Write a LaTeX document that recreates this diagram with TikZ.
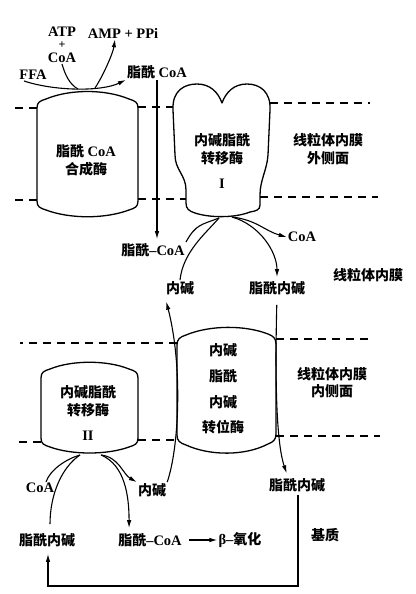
\documentclass[tikz,border=0pt]{standalone}
\usepackage{fontspec}
\setmainfont{Liberation Serif}
\newfontfamily\zhfont{Noto Sans CJK SC}
\usepackage{tikz}
\usetikzlibrary{arrows.meta,positioning}
\newcommand{\zh}[1]{{\zhfont\fontsize{14}{16}\selectfont #1}}

\begin{document}
\begin{tikzpicture}[x=1pt,y=-1pt]
\tikzstyle{lbl}=[inner sep=1pt, font=\fontsize{14.5}{16}\selectfont\bfseries]
\tikzstyle{stack}=[lbl, align=center]
\tikzstyle{enz}=[line width=1.3pt, line join=round]
\tikzstyle{memb}=[line width=1.2pt, dash pattern=on 8pt off 6pt]
\tikzstyle{flow}=[line width=1.1pt]
\tikzstyle{arr}=[flow, -{Latex[length=8pt,width=4.5pt]}]
\useasboundingbox (0,0) rectangle (415,594);

% membrane faces
\draw[memb] (37,108) -- (10,108);
\draw[memb] (138,107) -- (173,107);
\draw[memb] (270,103) -- (370,103);
\draw[memb] (37,200) -- (10,200);
\draw[memb] (138,199) -- (186,199);
\draw[memb] (260,197) -- (378,197);
\draw[memb] (177,343) -- (20,343);
\draw[memb] (276,339) -- (372,339);
\draw[memb] (41,442) -- (15,442);
\draw[memb] (138,440) -- (177,440);
\draw[memb] (276,436) -- (380,436);

% enzymes
\draw[enz] (37,108) .. controls (37,102) and (40,101) .. (46,99)
  .. controls (70,89) and (105,89) .. (129,99)
  .. controls (135,101) and (138,102) .. (138,108) -- (138,201)
  .. controls (138,207) and (135,208) .. (129,210)
  .. controls (105,219) and (70,219) .. (46,210)
  .. controls (40,208) and (37,207) .. (37,201) -- cycle;
\draw[enz] (173,110) .. controls (172,90) and (185,84) .. (197,84)
  .. controls (210,84) and (218,92) .. (222,103)
  .. controls (226,92) and (234,84) .. (247,84)
  .. controls (260,84) and (271,92) .. (270,110) -- (268,155)
  .. controls (267,170) and (260,180) .. (260,195) -- (260,205)
  .. controls (260,210) and (256,211) .. (250,212)
  .. controls (235,218) and (210,218) .. (195,213)
  .. controls (189,211) and (186,209) .. (186,203) -- (186,190)
  .. controls (186,175) and (175,170) .. (175,155) -- cycle;
\draw[enz] (177,345) .. controls (177,339) and (180,337) .. (186,335)
  .. controls (210,325) and (245,325) .. (268,334)
  .. controls (273,336) and (276,338) .. (276,344) -- (276,434)
  .. controls (276,440) and (273,442) .. (268,444)
  .. controls (245,456) and (210,456) .. (186,445)
  .. controls (180,443) and (177,441) .. (177,435) -- cycle;
\draw[enz] (41,378) .. controls (41,372) and (44,371) .. (50,369)
  .. controls (72,360) and (107,360) .. (129,369)
  .. controls (135,371) and (138,372) .. (138,378) -- (138,438)
  .. controls (138,444) and (135,445) .. (129,447)
  .. controls (107,455) and (72,455) .. (50,447)
  .. controls (44,445) and (41,444) .. (41,438) -- cycle;

\draw node at (86,160) [stack, font=\fontsize{14.5}{18}\selectfont\bfseries] (Acs) {\zh{脂酰} CoA\\\zh{合成酶}};
\draw node at (222,161) [stack, font=\fontsize{14.5}{18}\selectfont\bfseries] (CptI) {\zh{内碱脂酰}\\\zh{转移酶}\\[7pt]I};
\draw node at (223,389) [stack, font=\fontsize{14.5}{25.7}\selectfont\bfseries] (Cact) {\zh{内碱}\\\zh{脂酰}\\\zh{内碱}\\\zh{转位酶}};
\draw node at (88,413) [stack, font=\fontsize{14.5}{18}\selectfont\bfseries] (CptII) {\zh{内碱脂酰}\\\zh{转移酶}\\[7pt]II};

\draw node at (328,149) [stack, font=\fontsize{14.5}{18}\selectfont\bfseries] (OuterSide) {\zh{线粒体内膜}\\\zh{外侧面}};
\draw node at (368,275) [lbl] (Inner) {\zh{线粒体内膜}};
\draw node at (332,383) [stack, font=\fontsize{14.5}{17}\selectfont\bfseries] (InnerSide) {\zh{线粒体内膜}\\\zh{内侧面}};
\draw node at (325,535) [lbl] (Matrix) {\zh{基质}};

% outside
\draw node at (62,32) [lbl] (ATP) {ATP};
\draw node at (62,45) [lbl, inner sep=0pt, font=\fontsize{12}{12}\selectfont\bfseries] (Plus) {+};
\draw node at (62,58) [lbl] (CoAin) {CoA};
\draw node at (123,33) [lbl] (AMP) {AMP + PPi};
\draw node at (33,75) [lbl] (FFA) {FFA};
\draw node at (157,72) [lbl] (AcylCoAtop) {\zh{脂酰} CoA};

% intermembrane
\draw node at (153,250) [lbl] (AcylCoAmid) {\zh{脂酰}--CoA};
\draw node at (302,237) [lbl] (CoAmid) {CoA};
\draw node at (180,288) [lbl] (Car) {\zh{内碱}};
\draw node at (277,288) [lbl] (AcylCar) {\zh{脂酰内碱}};

% matrix
\draw node at (40,488) [lbl] (CoAM) {CoA};
\draw node at (152,490) [lbl] (CarM) {\zh{内碱}};
\draw node at (297,485) [lbl] (AcylCarR) {\zh{脂酰内碱}};
\draw node at (47,540) [lbl] (AcylCarM) {\zh{脂酰内碱}};
\draw node at (150,540) [lbl] (AcylCoAM) {\zh{脂酰}--CoA};
\draw node at (240,540) [lbl] (Beta) {β--\zh{氧化}};

\coordinate (AcsIn) at (78,89);
\coordinate (AcsOut) at (95,88);
\coordinate (CptIin) at (219,218);
\coordinate (CptIout) at (232,217);
\coordinate (CptIIin) at (80,455);
\coordinate (CptIIout) at (101,455);
\coordinate (LoopBase) at (0,586);

\draw[arr] ([xshift=-9pt]FFA.south) .. controls +(30,10) and +(-25,12) .. (AcylCoAtop.south west);
\draw[flow] (CoAin.south) .. controls +(3,10) and +(-9,-5) .. (AcsIn);
\draw[arr] (AcsOut) .. controls +(8,-12) and +(-2,14) .. ([xshift=-8pt]AMP.south);
\draw[arr, shorten >=3pt] (AcylCoAtop.south) -- (AcylCoAtop.south |- AcylCoAmid.north);

\draw[flow] (AcylCoAmid.north east) .. controls +(10,-18) and +(-18,7) .. (CptIin);
\draw[flow] (Car.north) .. controls +(3,-28) and +(-14,16) .. (CptIin);
\draw[arr] (CptIout) .. controls +(25,3) and +(-22,-6) .. (CoAmid.west);
\draw[arr, shorten >=3pt] (CptIout) .. controls +(28,8) and +(0,-28) .. (AcylCar.north);

\draw[arr, shorten >=6pt] (CarM.north east) .. controls +(12,-35) and +(18,70) .. (Car.south west);
\draw[arr, shorten <=9pt, shorten >=4pt] (AcylCar.south) .. controls +(-2,80) and +(-12,-35) .. ([xshift=-9pt]AcylCarR.north);

\draw[flow, shorten <=8pt] ([xshift=3pt]AcylCarM.north) .. controls +(0,-38) and +(-18,12) .. (CptIIin);
\draw[flow] ([xshift=6pt]CoAM.north) .. controls +(4,-12) and +(-14,4) .. (CptIIin);
\draw[arr] (CptIIout) .. controls +(18,2) and +(-14,-8) .. (CarM.north west);
\draw[arr, shorten >=4pt] (CptIIout) .. controls +(24,10) and +(0,-36) .. ([xshift=12pt]AcylCoAM.north west);
\draw[arr, shorten <=6pt] (AcylCoAM.east) -- (Beta.west);

\draw[arr, shorten <=2pt, shorten >=6pt] ([xshift=1pt]AcylCarR.south) -- ([xshift=1pt]AcylCarR.south |- LoopBase) -| ([xshift=1pt]AcylCarM.south);
\end{tikzpicture}
\end{document}
